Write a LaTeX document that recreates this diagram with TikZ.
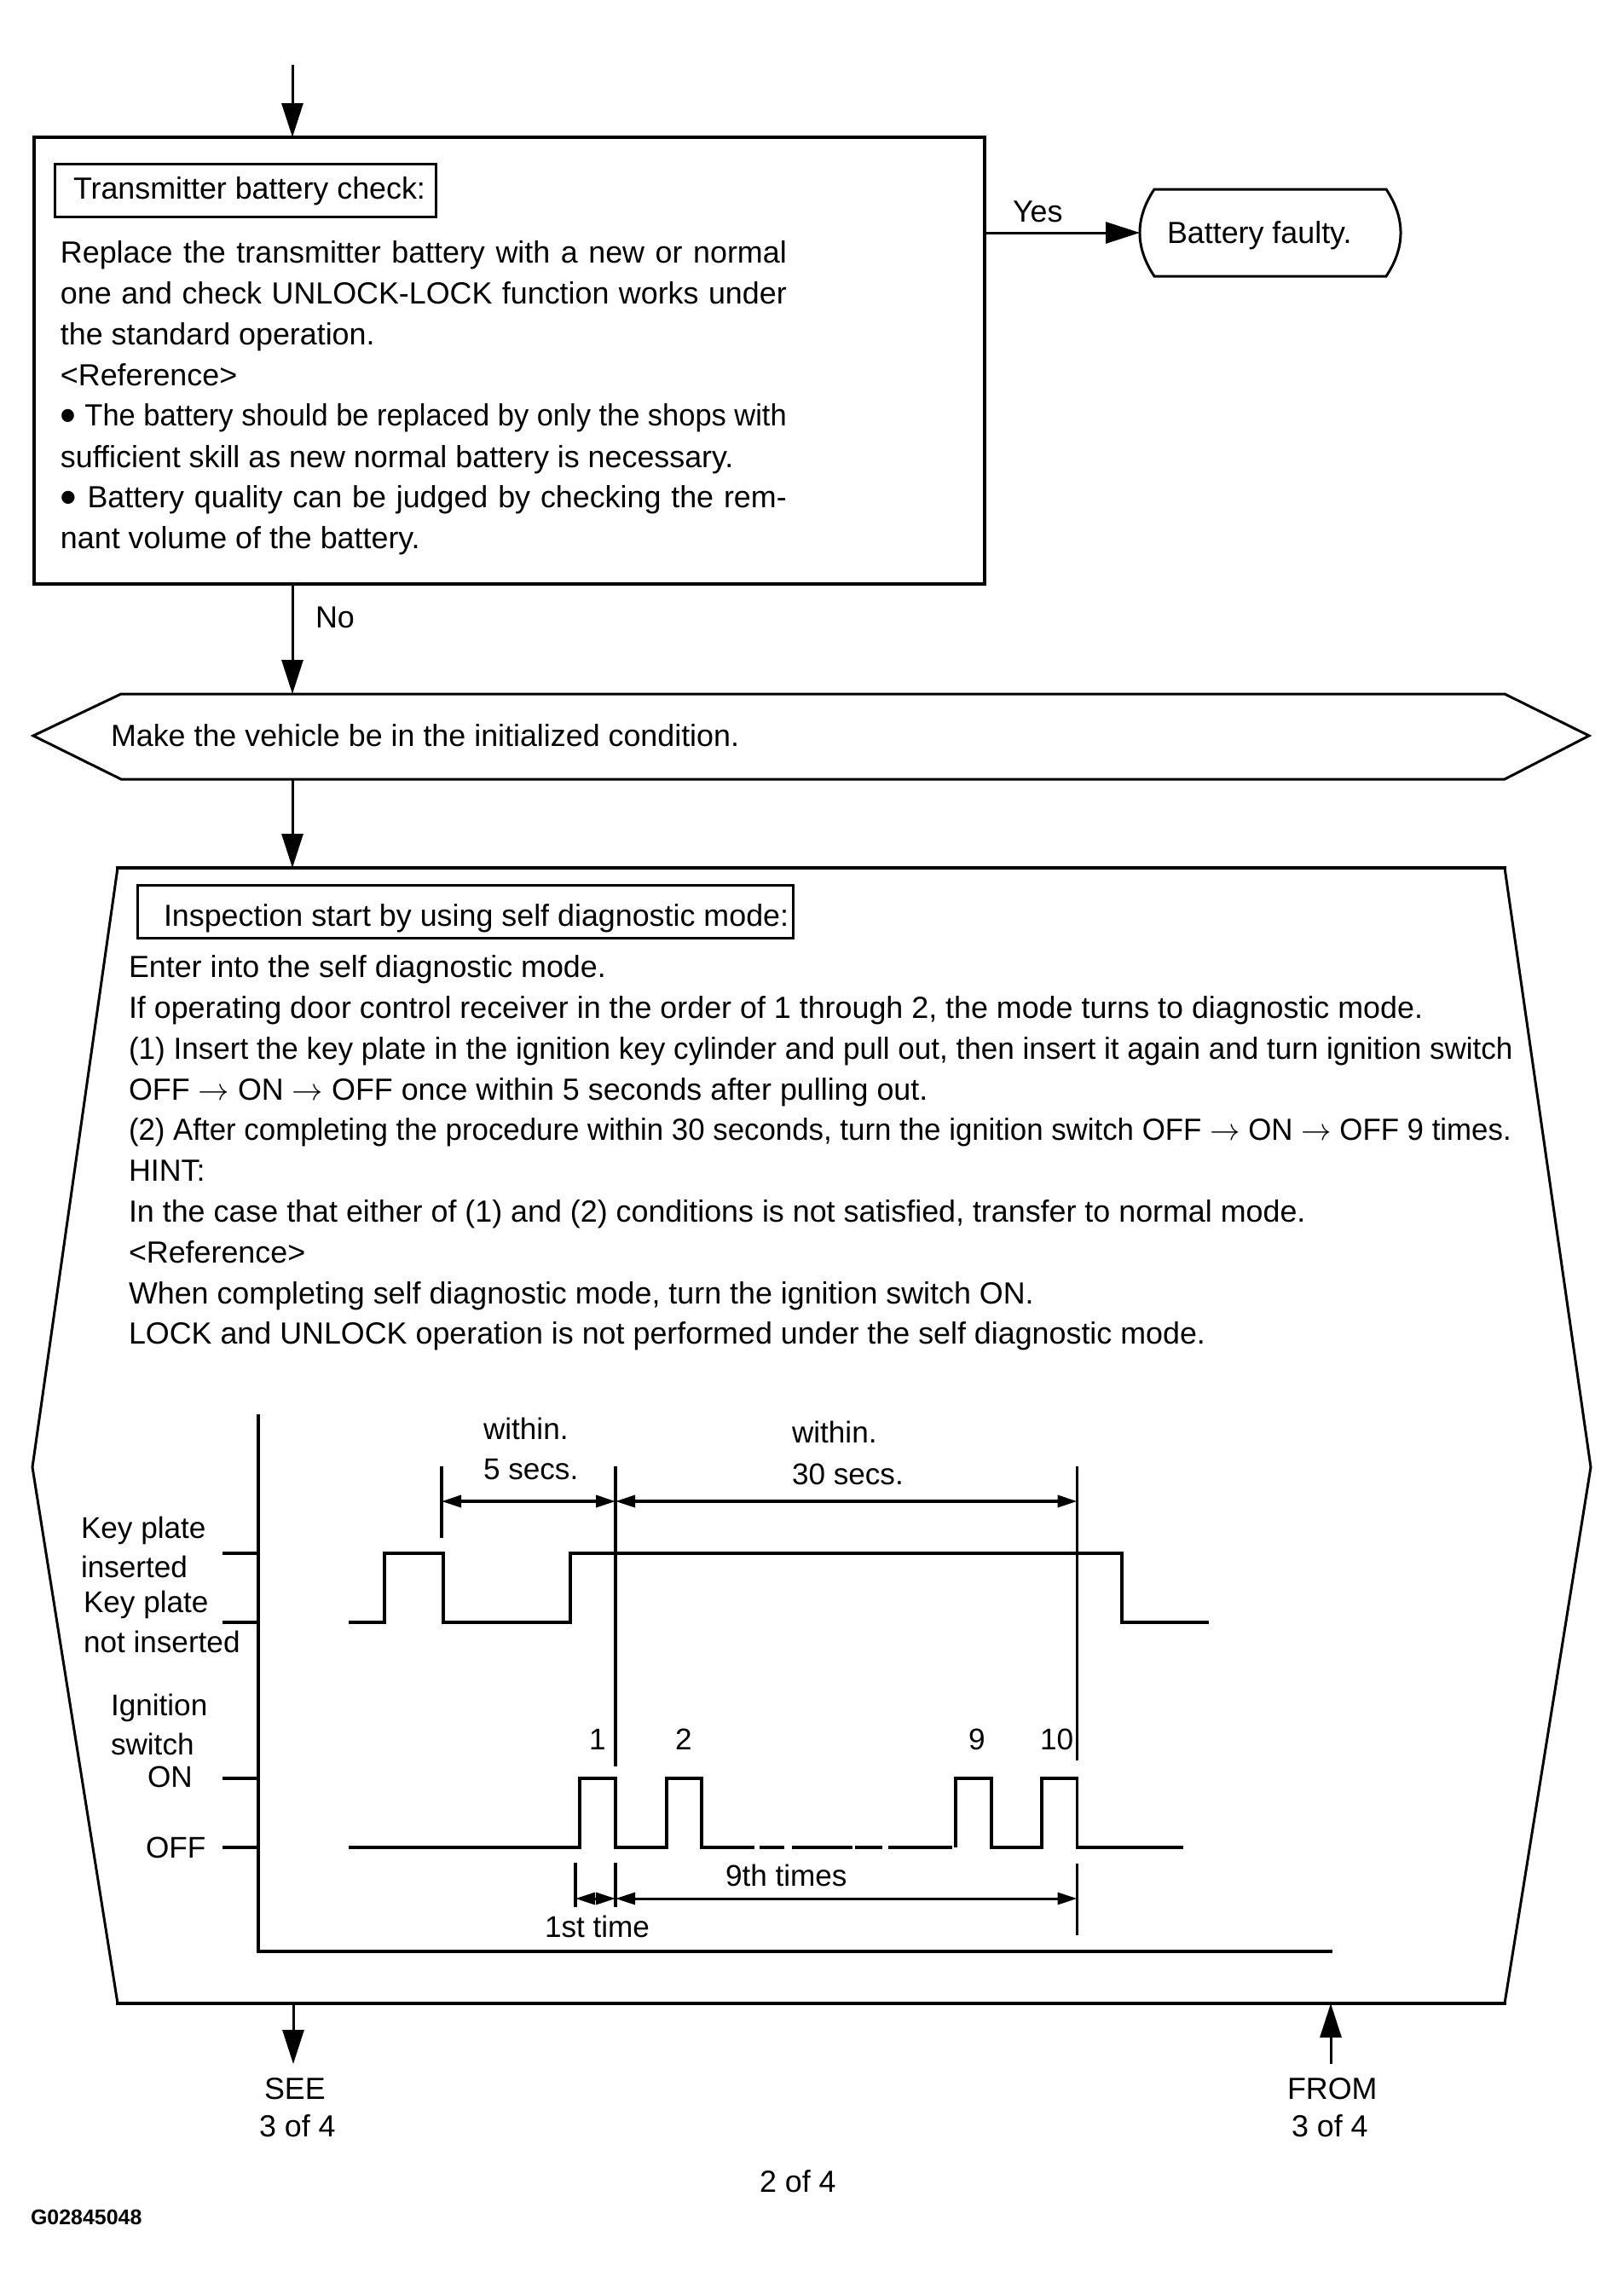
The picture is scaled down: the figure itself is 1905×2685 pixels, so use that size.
\documentclass[tikz,border=0pt]{standalone}
\usepackage{fontspec}
\setmainfont{Liberation Sans}
\usepackage{tikz}
\usetikzlibrary{arrows.meta, fit}
\newcommand{\wideline}[2]{\makebox[#1][s]{#2}}
\newcommand{\tightline}[2]{\resizebox{#1}{\height}{#2}}
\newcommand{\blob}{\raisebox{-4.5pt}{\fontsize{32}{32}\selectfont\textbullet}}

\begin{document}
\begin{tikzpicture}[
    x=0.02cm, y=-0.02cm,
    every node/.style={inner sep=0pt, outer sep=0pt},
    txt/.style={anchor=base west, font=\fontsize{20.4}{24}\selectfont},
    charttxt/.style={anchor=base west, font=\fontsize{20}{24}\selectfont},
    smalltxt/.style={anchor=base west, font=\bfseries\fontsize{14.2}{15}\selectfont},
    framebox/.style={rectangle, draw=black, line width=0.08cm},
    titlebox/.style={rectangle, draw=black, line width=0.06cm},
    outline/.style={draw=black, line width=0.06cm, line join=miter},
    heavyline/.style={draw=black, line width=0.09cm},
    myarrow/.style={-{Triangle[length=0.8cm, width=0.5cm]}, line width=0.06cm, black},
    dimarrow/.style={{Triangle[length=0.46cm, width=0.28cm]}-{Triangle[length=0.46cm, width=0.28cm]}, line width=0.07cm, black},
    sigline/.style={line width=0.065cm, black, line join=miter}
]
\useasboundingbox (0,0) rectangle (1905,2685);

% First check and its result
\coordinate (entry) at (343,76);
\node[framebox, name=checkbox, fit={(40,161)(1155,685)}] {};
\node[titlebox, name=checktitle, fit={(64,192)(511,254)}] {};
\node[txt, name=checkhead] at (86,233) {Transmitter battery check:};
\foreach \i/\y/\t in {
    1/308/{\wideline{17.04cm}{Replace the transmitter battery with a new or normal}},
    2/356/{\wideline{17.04cm}{one and check UNLOCK-LOCK function works under}},
    3/404/{the standard operation.},
    4/452/{<Reference>},
    5/499/{\tightline{17.04cm}{\blob\ The battery should be replaced by only the shops with}},
    6/548/{sufficient skill as new normal battery is necessary.},
    7/595/{\wideline{17.04cm}{\blob\ Battery quality can be judged by checking the rem-}},
    8/643/{nant volume of the battery.}} {
    \node[txt, name=checkline\i] at (71,\y) {\t};
}
\node[name=faulty, fit={(1337,222)(1643,324)}] {};
\draw[outline] (1354,222) -- (1626,222) .. controls (1648.7,256) and (1648.7,290) .. (1626,324)
    -- (1354,324) .. controls (1331.3,290) and (1331.3,256) .. (1354,222) -- cycle;
\node[txt, name=faultytext] at (1369,285) {Battery faulty.};
\node[txt, name=yeslabel] at (1188,260) {Yes};
\node[txt, name=nolabel] at (370,736) {No};

% Initial condition bar
\node[name=initbar, fit={(142,814)(1765,914)}] {};
\draw[outline] (initbar.north west) -- (initbar.north east) -- (1864,863)
    -- (initbar.south east) -- (initbar.south west) -- (39,863) -- cycle;
\node[txt, name=inittext] at (130,875) {Make the vehicle be in the initialized condition.};

% Self diagnostic panel
\node[name=panel, fit={(138,1018)(1765,2350)}] {};
\draw[outline] (panel.north east) -- (1866,1721) -- (panel.south east);
\draw[outline] (panel.south west) -- (38,1721) -- (panel.north west);
\draw[heavyline, line cap=rect] (panel.north west) -- (panel.north east);
\draw[heavyline, line cap=rect] (panel.south west) -- (panel.south east);
\node[titlebox, name=paneltitle, fit={(161,1038)(930,1100)}] {};
\node[txt, name=panelhead] at (192,1086) {Inspection start by using self diagnostic mode:};
\foreach \i/\y/\t in {
    1/1146/{Enter into the self diagnostic mode.},
    2/1194/{If operating door control receiver in the order of 1 through 2, the mode turns to diagnostic mode.},
    3/1242/{\tightline{32.48cm}{(1) Insert the key plate in the ignition key cylinder and pull out, then insert it again and turn ignition switch}},
    4/1290/{OFF $\rightarrow$ ON $\rightarrow$ OFF once within 5 seconds after pulling out.},
    5/1337/{\tightline{32.44cm}{(2) After completing the procedure within 30 seconds, turn the ignition switch OFF $\rightarrow$ ON $\rightarrow$ OFF 9 times.}},
    6/1385/{HINT:},
    7/1433/{In the case that either of (1) and (2) conditions is not satisfied, transfer to normal mode.},
    8/1481/{<Reference>},
    9/1529/{When completing self diagnostic mode, turn the ignition switch ON.},
    10/1576/{LOCK and UNLOCK operation is not performed under the self diagnostic mode.}} {
    \node[txt, name=panelline\i] at (151,\y) {\t};
}

% Timing chart
\coordinate (axistop) at (303,1659);
\coordinate (origin) at (303,2289);
\coordinate (axisend) at (1563,2289);
\draw[sigline] (axistop) -- (origin) -- (axisend);
\foreach \y in {1822,1903,2086,2167} {
    \draw[sigline] (261,\y) -- (303,\y);
}
\draw[sigline] (409,1903) -- (451,1903) -- (451,1822) -- (520,1822) -- (520,1903) -- (669,1903)
    -- (669,1822) -- (1316,1822) -- (1316,1903) -- (1418,1903);
\draw[sigline] (409,2167) -- (680,2167) -- (680,2086) -- (722,2086) -- (722,2167) -- (782,2167)
    -- (782,2086) -- (823,2086) -- (823,2167) -- (885,2167);
\foreach \a/\b in {891/920, 929/1000, 1003/1035, 1042/1117} {
    \draw[sigline] (\a,2167) -- (\b,2167);
}
\draw[sigline] (1121,2167) -- (1121,2086) -- (1163,2086) -- (1163,2167) -- (1222,2167)
    -- (1222,2086) -- (1263.5,2086) -- (1263.5,2167) -- (1388,2167);

% Time marks
\coordinate (marka) at (518,1720);
\coordinate (markb) at (722,1720);
\coordinate (markc) at (1263.5,1720);
\coordinate (markd) at (675,2185);
\coordinate (marke) at (722,2185);
\coordinate (markf) at (1263.5,2186);
\draw[sigline] (marka) -- (518,1804);
\draw[sigline] (markb) -- (722,2072);
\draw[sigline] (markc) -- (1263.5,2065);
\draw[sigline] (markd) -- (675,2237);
\draw[sigline] (marke) -- (722,2237);
\draw[sigline] (markf) -- (1263.5,2270);
\draw[dimarrow] (518,1761) -- (722,1761);
\draw[dimarrow] (722,1761) -- (1263.5,1761);
\draw[dimarrow, line width=0.06cm] (675,2227) -- (722,2227);
\draw[dimarrow, line width=0.06cm] (722,2227) -- (1263.5,2227);

\foreach \n/\x/\y/\t in {
    within/567/1688/{within.}, fivesecs/567/1735/{5 secs.},
    withinb/929/1692/{within.}, thirtysecs/929/1741/{30 secs.},
    keya/95/1804/{Key plate}, keyb/95/1850/{inserted},
    keyc/98/1891/{Key plate}, keyd/98/1938/{not inserted},
    ignitiona/130/2012/{Ignition}, ignitionb/130/2058/{switch},
    onlabel/173/2096/{ON}, offlabel/171/2179/{OFF},
    pulsea/691/2052/{1}, pulseb/792/2052/{2}, pulsec/1136/2052/{9}, pulsed/1220/2052/{10},
    ninth/851/2212/{9th times}, first/639/2272/{1st time}} {
    \node[charttxt, name=\n] at (\x,\y) {\t};
}
\foreach \n/\x/\y/\t in {
    seelabel/310/2462/{SEE}, seepage/304/2506/{3 of 4},
    fromlabel/1510/2462/{FROM}, frompage/1515/2506/{3 of 4},
    pagelabel/891/2571/{2 of 4}} {
    \node[txt, name=\n] at (\x,\y) {\t};
}
\node[smalltxt, name=figcode] at (36,2609) {G02845048};

% Flow connectors
\coordinate (seeend) at (344,2421);
\coordinate (fromstart) at (1561,2421);
\draw[myarrow] (entry) -- (entry |- checkbox.north);
\draw[myarrow] (checkbox.east |- faulty.west) -- (faulty.west);
\draw[myarrow] (entry |- checkbox.south) -- (entry |- initbar.north);
\draw[myarrow] (entry |- initbar.south) -- (entry |- panel.north);
\draw[myarrow] (seeend |- panel.south) -- (seeend);
\draw[myarrow] (fromstart) -- (fromstart |- panel.south);

\end{tikzpicture}
\end{document}
